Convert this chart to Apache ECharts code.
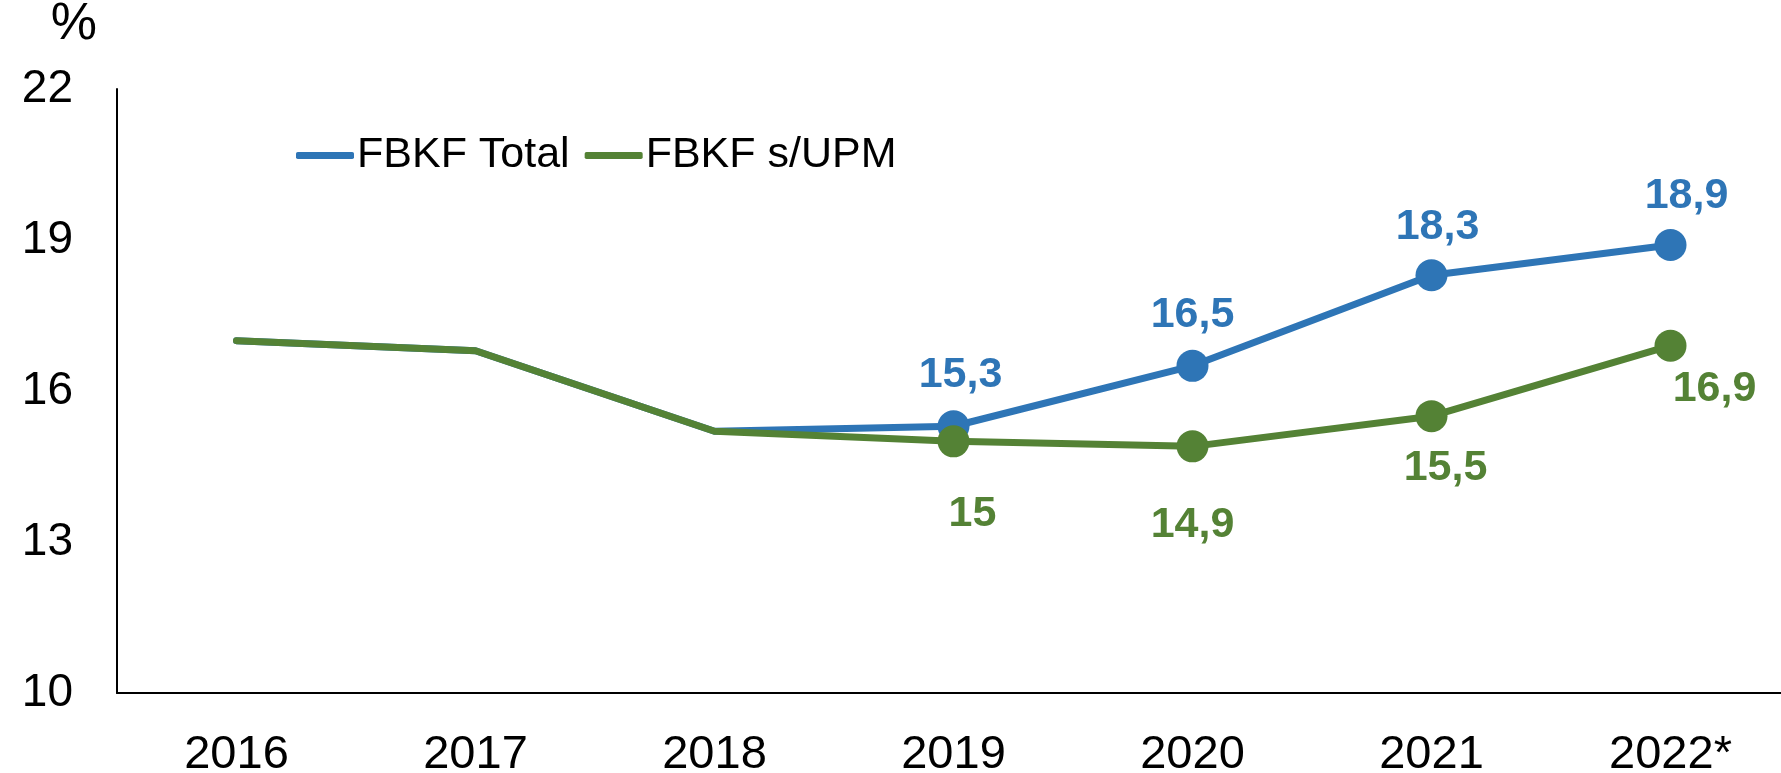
<!DOCTYPE html>
<html lang="pt" style="height: 100%">
<head>
  <meta charset="utf-8">
  <title>FBKF</title>
</head>
<body style="height: 100%; margin: 0">
  <div id="container" style="width: 1781px; height: 773px"></div>

  <script type="text/javascript" src="https://cdn.jsdelivr.net/npm/echarts@6/dist/echarts.min.js"></script>

  <script type="text/javascript">
    // dados
    var years = ['2016', '2017', '2018', '2019', '2020', '2021', '2022*'];
    var fbkfTotal = [17.0, 16.8, 15.2, 15.3, 16.5, 18.3, 18.9];
    var fbkfSemUpm = [17.0, 16.8, 15.2, 15.0, 14.9, 15.5, 16.9];
    var yTicks = [10, 13, 16, 19, 22];
    var firstMarked = 3; // marcadores e rótulos a partir de 2019

    // posição dos rótulos em relação ao ponto (px)
    var totalLabelOffsets = [[7, -51], [0, -51], [6, -48], [16, -49]];
    var upmLabelOffsets = [[19, 73], [0, 79], [14, 52], [44, 43]];

    var blue = '#2E75B6';
    var green = '#548235';
    var font = '"Liberation Sans", Arial, sans-serif';

    function fmt(v) {
      return String(v).replace('.', ',');
    }

    function buildData(values, offsets, color) {
      return values.map(function (v, i) {
        var marked = i >= firstMarked;
        return {
          value: v,
          symbol: marked ? 'circle' : 'none',
          label: {
            show: marked,
            position: 'inside',
            offset: marked ? offsets[i - firstMarked] : [0, 0],
            formatter: function (p) { return fmt(p.value); },
            color: color,
            fontSize: 43,
            fontWeight: 'bold',
            fontFamily: font
          }
        };
      });
    }

    var dom = document.getElementById('container');
    var myChart = echarts.init(dom, null, { renderer: 'canvas' });

    var option = {
      animation: false,
      backgroundColor: '#fff',
      grid: { left: 117, width: 1673, top: 89, bottom: 80, outerBoundsMode: 'none', containLabel: false },
      legend: {
        left: 291,
        top: 129,
        itemWidth: 58,
        itemHeight: 7,
        itemGap: 15,
        textStyle: { fontSize: 43, fontFamily: font, color: '#000', padding: [0, 0, 0, -2] },
        data: [
          { name: 'FBKF Total', icon: 'roundRect' },
          { name: 'FBKF s/UPM', icon: 'roundRect' }
        ]
      },
      xAxis: {
        type: 'category',
        data: years,
        boundaryGap: true,
        axisLine: { lineStyle: { color: '#000', width: 2 } },
        axisTick: { show: false },
        axisLabel: { color: '#000', fontSize: 47, fontFamily: font, margin: 39 },
        splitLine: { show: false }
      },
      yAxis: {
        type: 'value',
        min: yTicks[0],
        max: yTicks[yTicks.length - 1],
        interval: 3,
        name: '%',
        nameLocation: 'end',
        nameGap: 38,
        nameTextStyle: { color: '#000', fontSize: 52, fontFamily: font, align: 'right', padding: [0, 20, 0, 0] },
        axisLine: { show: true, lineStyle: { color: '#000', width: 2 } },
        axisTick: { show: false },
        axisLabel: { color: '#000', fontSize: 46, fontFamily: font, margin: 44 },
        splitLine: { show: false }
      },
      series: [
        {
          name: 'FBKF Total',
          type: 'line',
          data: buildData(fbkfTotal, totalLabelOffsets, blue),
          symbolSize: 32,
          showAllSymbol: true,
          itemStyle: { color: blue },
          lineStyle: { color: blue, width: 7, cap: 'round', join: 'round' }
        },
        {
          name: 'FBKF s/UPM',
          type: 'line',
          data: buildData(fbkfSemUpm, upmLabelOffsets, green),
          symbolSize: 32,
          showAllSymbol: true,
          itemStyle: { color: green },
          lineStyle: { color: green, width: 7, cap: 'round', join: 'round' }
        }
      ]
    };

    myChart.setOption(option);
    window.addEventListener('resize', myChart.resize);
  </script>
</body>
</html>
